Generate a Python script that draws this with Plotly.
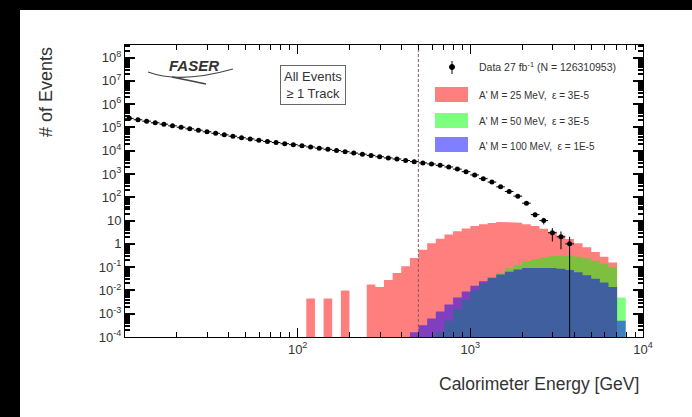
import numpy as np
import plotly.graph_objects as go

# ---------------- data ----------------
LOG_E_MIN, LOG_E_MAX, N_BINS = 1.0, 4.0, 60   # 10 GeV .. 10 TeV, log bins
CUT_ENERGY = 500.0                              # GeV, dashed line

data_counts = [245000, 214000, 186000, 158000, 138000, 117000, 102000, 87000,
               76000, 65000, 56000, 48000, 42000, 36000, 32000, 28000, 25000,
               22400, 20000, 18200, 16200, 14500, 12900, 11500, 10200, 9100,
               7900, 7100, 6300, 5500, 4900, 4400, 3800, 3400, 3000, 2700,
               2350, 2000, 1620, 1260, 910, 630, 450, 280, 178, 112, 56, 18,
               10, 3, 2, 1]

sig_25MeV = [0] * 21 + [0.0045, 0, 0.0045, 0, 0.010, 0, 0,
                        0.018, 0.014, 0.028, 0.056, 0.11, 0.25, 0.56, 1.05,
                        1.66, 2.5, 3.5, 4.6, 5.8, 6.9, 7.9, 8.7, 8.7, 8.1,
                        7.0, 5.8, 4.5, 3.3, 2.3, 1.6, 1.07, 0.71, 0.45, 0.28,
                        0.16, 0, 0, 0]
sig_50MeV = [0] * 36 + [0.00016, 0.0005, 0.0016, 0.004, 0.01, 0.02, 0.035,
                        0.056, 0.089, 0.126, 0.178, 0.224, 0.263, 0.295,
                        0.316, 0.316, 0.282, 0.24, 0.19, 0.141, 0.1, 0.005,
                        0, 0]
sig_100MeV = [0] * 33 + [0.00016, 0.00032, 0.00063, 0.00126, 0.0025, 0.005,
                         0.0089, 0.0158, 0.025, 0.035, 0.048, 0.063, 0.079,
                         0.093, 0.1, 0.1, 0.093, 0.085, 0.076, 0.06, 0.045,
                         0.032, 0.022, 0.014, 0.0005, 0, 0]

legend_labels = ["Data 27 fb<sup>-1</sup> (N = 126310953)",
                 "A' M = 25 MeV,  \u03b5 = 3E-5",
                 "A' M = 50 MeV,  \u03b5 = 3E-5",
                 "A' M = 100 MeV,  \u03b5 = 1E-5"]
sig_colors = ["rgba(255,0,0,0.5)", "rgba(0,255,0,0.5)", "rgba(0,0,255,0.5)"]

y_tick_vals = [10.0 ** p for p in range(-4, 9)]
y_tick_text = ["10<sup>-4</sup>", "10<sup>-3</sup>", "10<sup>-2</sup>", "10<sup>-1</sup>",
               "1", "10", "10<sup>2</sup>", "10<sup>3</sup>", "10<sup>4</sup>",
               "10<sup>5</sup>", "10<sup>6</sup>", "10<sup>7</sup>", "10<sup>8</sup>"]
x_tick_vals = [100, 1000, 10000]
x_tick_text = ["10<sup>2</sup>", "10<sup>3</sup>", "10<sup>4</sup>"]
Y_LOG_RANGE = [-4, 8.54]

# ---------------- geometry helpers ----------------
W, H = 692, 417
L, R, T, B = 125, 643, 45, 337
def px(x):
    return (x - L) / (R - L)
def py(y):
    return (B - y) / (B - T)

edges = 10 ** np.linspace(LOG_E_MIN, LOG_E_MAX, N_BINS + 1)
BASE = 1e-7

def step_polygon(vals):
    xs, ys = [edges[0]], [BASE]
    for i, v in enumerate(vals):
        yv = v if v > 0 else BASE
        xs += [edges[i], edges[i + 1]]
        ys += [yv, yv]
    xs.append(edges[-1]); ys.append(BASE)
    return xs, ys

fig = go.Figure()

for vals, col, name in zip([sig_25MeV, sig_50MeV, sig_100MeV], sig_colors, legend_labels[1:]):
    xs, ys = step_polygon(vals)
    fig.add_trace(go.Scatter(x=xs, y=ys, mode="lines", fill="toself",
                             fillcolor=col, line=dict(width=0), name=name,
                             hoverinfo="skip", showlegend=False))

# cut line
fig.add_trace(go.Scatter(x=[CUT_ENERGY, CUT_ENERGY],
                         y=[10 ** Y_LOG_RANGE[0], 10 ** Y_LOG_RANGE[1]],
                         mode="lines", line=dict(color="rgb(140,90,90)", width=1, dash="3px,2px"),
                         showlegend=False, hoverinfo="skip"))

# data points
n = len(data_counts)
lo, hi = edges[:n], edges[1:n + 1]
centers = np.sqrt(lo * hi)
counts = np.array(data_counts, dtype=float)
err = np.sqrt(counts)
err_minus = np.minimum(err, counts - 1e-6)
fig.add_trace(go.Scatter(
    x=centers, y=counts, mode="markers", name=legend_labels[0],
    marker=dict(color="black", size=5),
    error_y=dict(type="data", array=err, arrayminus=err_minus, color="black", thickness=1, width=0),
    error_x=dict(type="data", array=hi - centers, arrayminus=centers - lo, color="black", thickness=1, width=0),
    showlegend=False))

FONT = "Liberation Sans, Arial, sans-serif"
TXT = "#333"

shapes = [
    # black strips at image edges
    dict(type="rect", xref="paper", yref="paper", x0=px(0), x1=px(20), y0=py(H), y1=py(0),
         fillcolor="black", line=dict(width=0), layer="above"),
    dict(type="rect", xref="paper", yref="paper", x0=px(0), x1=px(W), y0=py(10), y1=py(0),
         fillcolor="black", line=dict(width=0), layer="above"),
    # FASER swoosh
    dict(type="path", xref="paper", yref="paper",
         path=f"M{px(148)},{py(72)} Q{px(180)},{py(84)} {px(233)},{py(69)}",
         line=dict(color="#444", width=1.2)),
    dict(type="path", xref="paper", yref="paper",
         path=f"M{px(172)},{py(77)} Q{px(192)},{py(81)} {px(206)},{py(84)}",
         line=dict(color="#444", width=1.6)),
    # legend data symbol
    dict(type="line", xref="paper", yref="paper", x0=px(452), x1=px(452), y0=py(61), y1=py(74),
         line=dict(color="black", width=1)),
    dict(type="circle", xref="paper", yref="paper", x0=px(449.5), x1=px(454.5), y0=py(64.5), y1=py(69.5),
         fillcolor="black", line=dict(color="black", width=1)),
]
sw_y = [(87, 102), (113, 128), (137, 152)]
for (y0, y1), col in zip(sw_y, sig_colors):
    shapes.append(dict(type="rect", xref="paper", yref="paper", x0=px(435), x1=px(468),
                       y0=py(y1), y1=py(y0), fillcolor=col, line=dict(width=0)))

def ann(x, y, text, size, **kw):
    d = dict(xref="paper", yref="paper", x=px(x), y=py(y), text=text, showarrow=False,
             xanchor="center", yanchor="middle", font=dict(size=size, color=TXT, family=FONT))
    d.update(kw)
    return d

annotations = [
    ann(46, 92, "# of Events", 18, textangle=-90),
    ann(641, 384, "Calorimeter Energy [GeV]", 17.5, xanchor="right"),
    ann(194, 66, "<b><i>FASER</i></b>", 15),
    ann(313, 85, "All Events<br>\u2265 1 Track", 13, align="center", bordercolor="#666",
        borderwidth=1, borderpad=3, bgcolor="white"),
]
for label, yc, fs in zip(legend_labels, [67, 95, 121, 146], [10.5, 10, 10, 10]):
    annotations.append(ann(477, yc, label, fs, xanchor="left"))

x_minor = [m * 10.0 ** p for p in range(1, 4) for m in range(2, 10)]
y_minor = [m * 10.0 ** p for p in range(-4, 9) for m in range(2, 10)]

fig.update_layout(
    width=W, height=H, margin=dict(l=L, r=W - R, t=T, b=H - B),
    paper_bgcolor="white", plot_bgcolor="white", showlegend=False,
    font=dict(family=FONT, color=TXT),
    shapes=shapes, annotations=annotations,
    xaxis=dict(type="log", range=[LOG_E_MIN, LOG_E_MAX], showgrid=False, zeroline=False,
               showline=True, linecolor="black", linewidth=1, mirror="allticks",
               ticks="inside", ticklen=9, tickcolor="black", tickvals=x_tick_vals,
               ticktext=x_tick_text, tickfont=dict(size=13, color=TXT),
               minor=dict(ticks="inside", ticklen=5, tickcolor="black", tickvals=x_minor, showgrid=False)),
    yaxis=dict(type="log", range=Y_LOG_RANGE, showgrid=False, zeroline=False,
               showline=True, linecolor="black", linewidth=1, mirror="allticks",
               ticks="inside", ticklen=10, tickwidth=1.5, tickcolor="black", tickvals=y_tick_vals,
               ticktext=y_tick_text, tickfont=dict(size=13, color=TXT),
               minor=dict(ticks="inside", ticklen=5, tickcolor="black", tickvals=y_minor, showgrid=False)),
)

fig.write_html("out.html")
